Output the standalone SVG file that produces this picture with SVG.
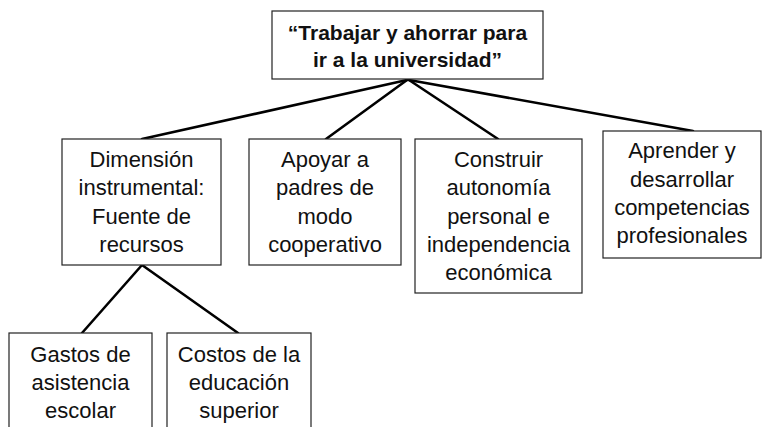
<svg xmlns="http://www.w3.org/2000/svg" width="763" height="427" viewBox="0 0 763 427">
<style>
.box{fill:#fff;stroke:#222;stroke-width:1.2}
.t{font-family:"Liberation Sans",Arial,sans-serif;font-size:22px;fill:#111;text-anchor:middle}
.tb{font-family:"Liberation Sans",Arial,sans-serif;font-size:21px;font-weight:bold;fill:#111;text-anchor:middle}
.c{stroke:#000;stroke-width:2.6;fill:none;stroke-linecap:round}
</style>
<rect width="763" height="427" fill="#fff"/>
<g id="connectors">
<line class="c" x1="407" y1="80" x2="142" y2="139"/>
<line class="c" x1="407" y1="80" x2="326" y2="139"/>
<line class="c" x1="409" y1="80" x2="498" y2="139"/>
<line class="c" x1="409" y1="80" x2="693" y2="131"/>
<line class="c" x1="142" y1="265" x2="82" y2="333"/>
<line class="c" x1="142" y1="265" x2="238" y2="333"/>
</g>
<g id="root">
<rect class="box" x="272" y="11" width="271" height="68"/>
<text class="tb" x="407.5" y="40">“Trabajar y ahorrar para</text>
<text class="tb" x="407.5" y="67">ir a la universidad”</text>
</g>
<g id="dimension">
<rect class="box" x="62" y="139" width="159" height="126"/>
<text class="t" x="141.5" y="167">Dimensión</text>
<text class="t" x="141.5" y="195">instrumental:</text>
<text class="t" x="141.5" y="224">Fuente de</text>
<text class="t" x="141.5" y="252">recursos</text>
</g>
<g id="apoyar">
<rect class="box" x="249" y="139" width="152" height="126"/>
<text class="t" x="325" y="167">Apoyar a</text>
<text class="t" x="325" y="195">padres de</text>
<text class="t" x="325" y="224">modo</text>
<text class="t" x="325" y="252">cooperativo</text>
</g>
<g id="construir">
<rect class="box" x="415" y="139" width="167" height="154"/>
<text class="t" x="498.5" y="167">Construir</text>
<text class="t" x="498.5" y="195">autonomía</text>
<text class="t" x="498.5" y="224">personal e</text>
<text class="t" x="498.5" y="252">independencia</text>
<text class="t" x="498.5" y="280">económica</text>
</g>
<g id="aprender">
<rect class="box" x="603" y="131" width="158" height="127"/>
<text class="t" x="682" y="158">Aprender y</text>
<text class="t" x="682" y="187">desarrollar</text>
<text class="t" x="682" y="215">competencias</text>
<text class="t" x="682" y="243">profesionales</text>
</g>
<g id="gastos">
<rect class="box" x="9" y="333" width="143" height="100"/>
<text class="t" x="80.5" y="362">Gastos de</text>
<text class="t" x="80.5" y="390">asistencia</text>
<text class="t" x="80.5" y="418">escolar</text>
</g>
<g id="costos">
<rect class="box" x="167" y="333" width="144" height="100"/>
<text class="t" x="239" y="362">Costos de la</text>
<text class="t" x="239" y="390">educación</text>
<text class="t" x="239" y="418">superior</text>
</g>
</svg>
